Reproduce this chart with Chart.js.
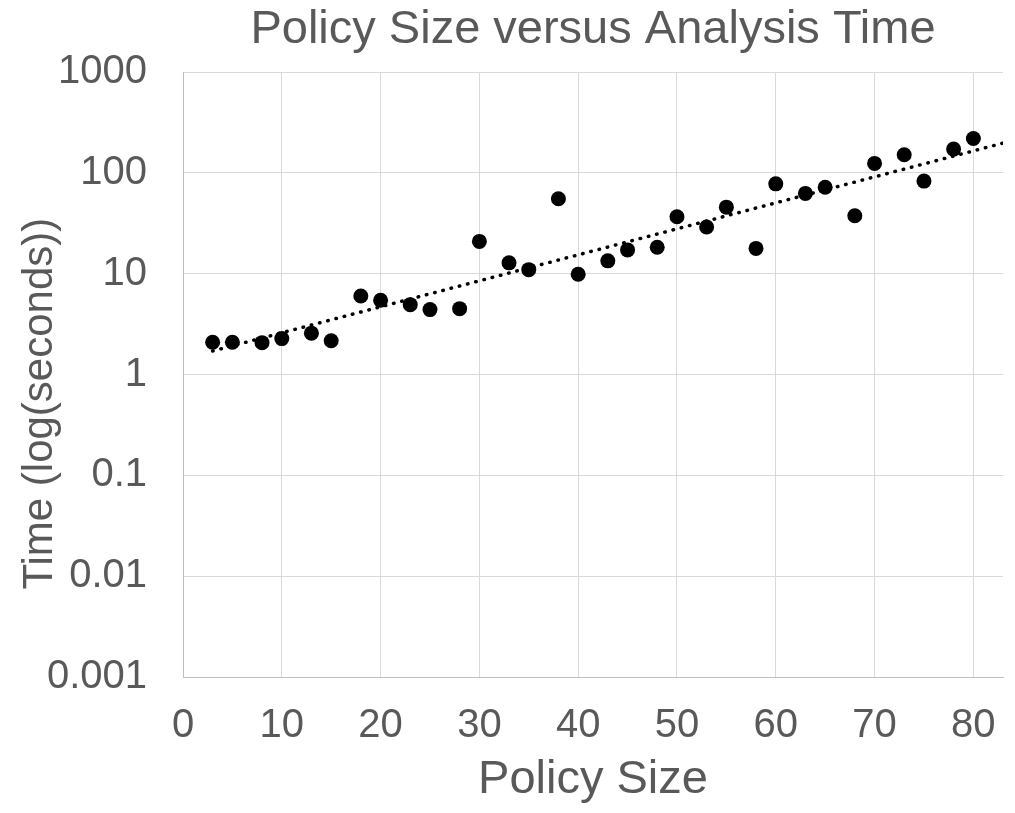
<!DOCTYPE html>
<html>
<head>
<meta charset="utf-8">
<title>Policy Size versus Analysis Time</title>
<script src="https://cdn.jsdelivr.net/npm/chart.js@4.4.1/dist/chart.umd.min.js"></script>
<style>
  html, body { margin: 0; padding: 0; background: #fff; }
  #chart { display: block; }
</style>
</head>
<body>
<canvas id="chart" width="1015" height="813"></canvas>
<script>
// policy size (x) and analysis time in seconds (y)
const policySizes = [3, 5, 8, 10, 13, 15, 18, 20, 23, 25, 28, 30, 33, 35, 38, 40,
  43, 45, 48, 50, 53, 55, 58, 60, 63, 65, 68, 70, 73, 75, 78, 80];
const analysisTimes = [2.09, 2.09, 2.07, 2.27, 2.57, 2.16, 6.0, 5.45, 4.93, 4.4, 4.5, 20.9,
  12.8, 10.96, 55.3, 9.86, 13.4, 17.2, 18.3, 36.7, 29, 45.7, 17.8, 77.8,
  62.5, 72, 37.5, 124, 151, 82.8, 172, 219];

const xTicks = [0, 10, 20, 30, 40, 50, 60, 70, 80];
const yTicks = [0.001, 0.01, 0.1, 1, 10, 100, 1000];
const yTickLabels = ['0.001', '0.01', '0.1', '1', '10', '100', '1000'];
// exponential trendline is drawn over this x range (forward to the axis end)
const trendRange = [3, 83];

const textColor = '#595959';
const gridColor = '#d9d9d9';
Chart.defaults.font.family = "'Liberation Sans', Arial, sans-serif";

//least squares fit of log10(time) against size = Excel's exponential trendline
const calcTrend = () => {
  const n = policySizes.length;
  const logs = analysisTimes.map(v => Math.log10(v));
  const mx = policySizes.reduce((a, b) => a + b, 0) / n;
  const ml = logs.reduce((a, b) => a + b, 0) / n;
  let sxy = 0, sxx = 0;
  policySizes.forEach((x, i) => {
    sxy += (x - mx) * (logs[i] - ml);
    sxx += (x - mx) * (x - mx);
  });
  const slope = sxy / sxx;
  const icpt = ml - slope * mx;
  return trendRange.map(x => ({ x: x, y: Math.pow(10, icpt + slope * x) }));
};

const points = policySizes.map((x, i) => ({ x: x, y: analysisTimes[i] }));

new Chart(document.getElementById('chart'), {
  type: 'scatter',
  data: {
    datasets: [
      {
        label: 'Analysis time',
        data: points,
        backgroundColor: '#000',
        borderColor: '#000',
        borderWidth: 0,
        pointRadius: 7.5,
        order: 1,
      },
      {
        label: 'Expon. trend',
        data: calcTrend(),
        showLine: true,
        pointRadius: 0,
        borderColor: '#000',
        borderWidth: 3.5,
        borderDash: [0.5, 8],
        borderCapStyle: 'round',
        order: 2,
      },
    ],
  },
  options: {
    responsive: false,
    animation: false,
    layout: { padding: { left: 0, right: 12, top: 0, bottom: 0 } },
    plugins: {
      legend: { display: false },
      tooltip: { enabled: false },
      title: {
        display: true,
        text: 'Policy Size versus Analysis Time',
        color: textColor,
        fullSize: false,
        font: { size: 47, weight: 'normal', lineHeight: 1.2 },
        padding: { top: 2, bottom: 13.6 },
      },
    },
    scales: {
      x: {
        type: 'linear',
        min: 0,
        max: 83,
        afterBuildTicks: (s) => { s.ticks = xTicks.map(v => ({ value: v })); },
        afterFit: (s) => {
          s.height = 136;
          // labels fit inside the plot width, no extra side room needed
          s.paddingLeft = 0;
          s.paddingRight = 0;
        },
        ticks: { color: textColor, font: { size: 40 }, padding: 25, maxRotation: 0 },
        grid: { color: gridColor, lineWidth: 1, drawTicks: false },
        border: { color: '#bfbfbf', width: 1 },
        title: {
          display: true,
          text: 'Policy Size',
          color: textColor,
          font: { size: 47, lineHeight: 1.2 },
          padding: { top: 0, bottom: 5 },
        },
      },
      y: {
        type: 'logarithmic',
        min: 0.001,
        max: 1000,
        afterBuildTicks: (s) => { s.ticks = yTicks.map(v => ({ value: v })); },
        afterFit: (s) => { s.width = 183; },
        ticks: {
          color: textColor,
          font: { size: 40 },
          padding: 36,
          callback: (v, i) => yTickLabels[i],
        },
        grid: { color: gridColor, lineWidth: 1, drawTicks: false },
        border: { color: '#bfbfbf', width: 1 },
        title: {
          display: true,
          // trailing spaces nudge the label down like the original
          text: 'Time (log(seconds))     ',
          color: textColor,
          font: { size: 42, lineHeight: 1.2 },
          padding: { top: 15, bottom: 0 },
        },
      },
    },
  },
});
</script>
</body>
</html>
